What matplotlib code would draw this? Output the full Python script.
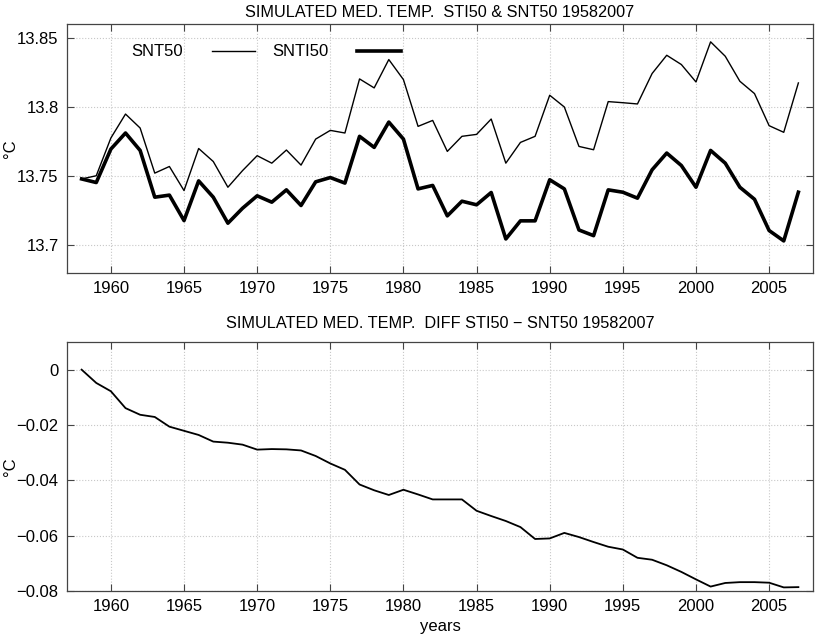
import matplotlib
matplotlib.use("Agg")
import matplotlib.pyplot as plt
import numpy as np

years = list(range(1958, 2008))

snt50 = [13.748, 13.7503, 13.7776, 13.7949, 13.7848, 13.7522, 13.757, 13.7396, 13.770, 13.7606,
         13.742, 13.754, 13.7648, 13.7594, 13.7689, 13.758, 13.7768, 13.7831, 13.7812, 13.8203,
         13.8138, 13.8343, 13.8198, 13.786, 13.7903, 13.7679, 13.7788, 13.7802, 13.7913, 13.7594,
         13.7744, 13.7788, 13.8085, 13.800, 13.7715, 13.7691, 13.8039, 13.8031, 13.8022, 13.8242,
         13.8374, 13.8307, 13.8181, 13.8471, 13.8367, 13.8186, 13.8097, 13.7865, 13.7817, 13.8174]

snti50 = [13.748, 13.7454, 13.7696, 13.7812, 13.7686, 13.7348, 13.7363, 13.7179, 13.7466, 13.7348,
          13.716, 13.7268, 13.7358, 13.7312, 13.7401, 13.7288, 13.7459, 13.749, 13.745, 13.7788,
          13.7708, 13.7891, 13.7768, 13.7408, 13.7433, 13.7213, 13.7319, 13.7293, 13.7382, 13.7046,
          13.7177, 13.7177, 13.7474, 13.7408, 13.7111, 13.707, 13.7401, 13.7384, 13.7341, 13.7546,
          13.7667, 13.7577, 13.742, 13.7686, 13.7594, 13.742, 13.7333, 13.7107, 13.7032, 13.7384]

diff = [0.0, -0.0048, -0.0078, -0.0139, -0.0163, -0.0171, -0.0206, -0.0221, -0.0236, -0.026,
        -0.0264, -0.0271, -0.0289, -0.0287, -0.0288, -0.0292, -0.0312, -0.0339, -0.0362, -0.0415,
        -0.0436, -0.0453, -0.0434, -0.0451, -0.0469, -0.0469, -0.0469, -0.051, -0.0529, -0.0547,
        -0.0569, -0.0612, -0.061, -0.059, -0.0605, -0.0623, -0.064, -0.065, -0.068, -0.0687,
        -0.0707, -0.0731, -0.0758, -0.0784, -0.0771, -0.0768, -0.0768, -0.077, -0.0787, -0.0786]

xticks = [1960, 1965, 1970, 1975, 1980, 1985, 1990, 1995, 2000, 2005]
yticks_top = [13.7, 13.75, 13.8, 13.85]
ytick_labels_top = ["13.7", "13.75", "13.8", "13.85"]
yticks_bot = [-0.08, -0.06, -0.04, -0.02, 0]
ytick_labels_bot = ["\u22120.08", "\u22120.06", "\u22120.04", "\u22120.02", "0"]

plt.rcParams['font.family'] = ['Liberation Sans', 'DejaVu Sans']
plt.rcParams['font.size'] = 12

W, H = 816, 637
fig = plt.figure(figsize=(W / 100, H / 100), dpi=100)

def px_axes(l, t, r, b):
    return fig.add_axes([l / W, 1 - b / H, (r - l) / W, (b - t) / H])

ax1 = px_axes(67, 24, 813, 273)
ax2 = px_axes(67, 342, 813, 591)

def style(ax):
    ax.set_xlim(1957, 2008)
    ax.set_xticks(xticks)
    ax.grid(True, color='#c8c8c8', linestyle=':', linewidth=0.8)
    ax.tick_params(direction='in', top=True, right=True, length=5, width=0.8,
                   labelsize=12, pad=6, color='#444444')
    for s in ax.spines.values():
        s.set_linewidth(0.9)
        s.set_color('#444444')

def ylab(ax):
    ax.set_ylabel('\u00b0C', fontsize=12, va='center', ha='center')
    ax.yaxis.set_label_coords(-0.076, 0.5)

ax1.plot(years, snt50, color='black', linewidth=1.0, label='SNT50')
ax1.plot(years, snti50, color='black', linewidth=2.6, label='SNTI50')
style(ax1)
ax1.set_ylim(13.68, 13.86)
ax1.set_yticks(yticks_top)
ax1.set_yticklabels(ytick_labels_top)
ylab(ax1)
ax1.set_title('SIMULATED MED. TEMP.  STI50 & SNT50 19582007', fontsize=11.7, pad=5)
ax1.legend(loc='center left', bbox_to_anchor=(0.086, 0.888), ncol=2, frameon=False,
           markerfirst=False, handlelength=2.6, handletextpad=1.75, columnspacing=1.0,
           borderaxespad=0, borderpad=0, fontsize=12)

ax2.plot(years, diff, color='black', linewidth=1.3)
style(ax2)
ax2.set_ylim(-0.08, 0.01)
ax2.set_yticks(yticks_bot)
ax2.set_yticklabels(ytick_labels_bot)
ylab(ax2)
ax2.set_xlabel('years', fontsize=12, labelpad=3)
ax2.set_title('SIMULATED MED. TEMP.  DIFF STI50 \u2212 SNT50 19582007', fontsize=11.7, pad=10)

fig.savefig('out.png', dpi=100)
